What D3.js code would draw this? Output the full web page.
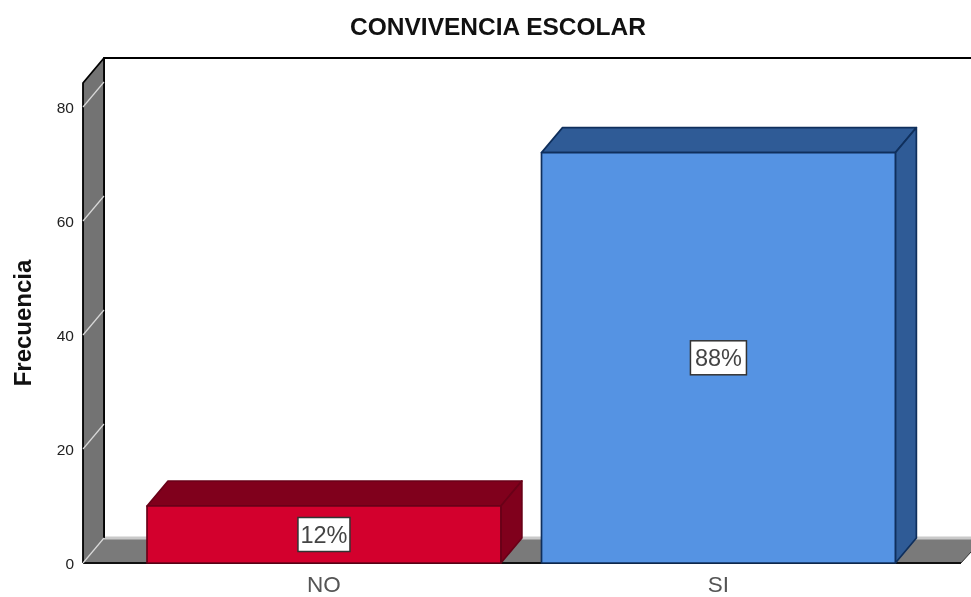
<!DOCTYPE html>
<html><head><meta charset="utf-8">
<script src="https://cdn.jsdelivr.net/npm/d3@7/dist/d3.min.js"></script>
<style>html,body{margin:0;padding:0;background:#fff}svg{display:block;filter:blur(0.35px)}text{font-family:"Liberation Sans",Arial,sans-serif}</style>
</head><body><svg id="c" width="971" height="597"></svg>
<script>
const title = "CONVIVENCIA ESCOLAR";
const yTitle = "Frecuencia";
const categories = ["NO","SI"];
const values = [10,72];
const percents = ["12%","88%"];
const yTicks = [0,20,40,60,80];
const barFront = {NO:"#d3002d",SI:"#5593e3"};
const barShade = {NO:"#80001c",SI:"#2f5b96"};
const barEdge = {NO:"#6a0018",SI:"#0f2f5c"};

const W=971, dx=21, dy=25, plotLeft=83, plotBottom=563, plotTop=83, floorRight=961;
const svg=d3.select("#c");
const y=d3.scaleLinear().domain([0,80]).range([plotBottom,107]);
const x=d3.scaleBand().domain(categories).range([127.3,915.1]).paddingInner(0.103).paddingOuter(0.05);
const poly=(pts,fill,stroke,sw)=>svg.append("path").attr("d",d3.line()(pts)+"Z").attr("fill",fill)
  .attr("stroke",stroke||"none").attr("stroke-width",sw||0).attr("stroke-linejoin","round");

svg.append("path").attr("d",d3.line()([[plotLeft+dx,plotBottom-dy],[plotLeft+dx,plotTop-dy],[W,plotTop-dy]])).attr("fill","none").attr("stroke","#000").attr("stroke-width",1.8);
poly([[plotLeft,plotTop],[plotLeft+dx,plotTop-dy],[plotLeft+dx,plotBottom-dy],[plotLeft,plotBottom]],"#737373");
poly([[plotLeft,plotBottom],[plotLeft+dx,plotBottom-dy],[W,plotBottom-dy],[W,plotBottom-11],[floorRight,plotBottom]],"#7a7a7a");
svg.append("rect").attr("x",plotLeft+dx).attr("y",plotBottom-dy-1.5).attr("width",W-plotLeft-dx).attr("height",3).attr("fill","#c9c9c9");
svg.append("path").attr("d",d3.line()([[plotLeft,plotBottom],[floorRight,plotBottom]])).attr("stroke","#111").attr("stroke-width",1.8);
svg.append("path").attr("d",d3.line()([[floorRight,plotBottom],[W,plotBottom-11]])).attr("stroke","#333").attr("stroke-width",1);
svg.append("path").attr("d",d3.line()([[plotLeft+dx,plotTop-dy],[plotLeft,plotTop],[plotLeft,plotBottom]])).attr("fill","none").attr("stroke","#000").attr("stroke-width",1.8);
svg.append("path").attr("d",d3.line()([[plotLeft+dx,plotTop-dy],[plotLeft+dx,plotBottom-dy]])).attr("fill","none").attr("stroke","#000").attr("stroke-width",1.8);
svg.append("g").selectAll("path").data(yTicks).join("path")
  .attr("d",d=>d3.line()([[plotLeft,y(d)],[plotLeft+dx,y(d)-dy]]))
  .attr("stroke","#d8d8d8").attr("stroke-width",1.2).attr("fill","none");

categories.forEach((c,i)=>{
  const x0=x(c),x1=x0+x.bandwidth(),yt=y(values[i]),yb=y(0);
  poly([[x0,yt],[x0+dx,yt-dy],[x1+dx,yt-dy],[x1,yt]],barShade[c],barEdge[c],1.7);
  poly([[x1,yt],[x1+dx,yt-dy],[x1+dx,yb-dy],[x1,yb]],barShade[c],barEdge[c],1.7);
  poly([[x0,yt],[x1,yt],[x1,yb],[x0,yb]],barFront[c],barEdge[c],1.7);
  const cx=x0+x.bandwidth()/2, cy=(yt+yb)/2;
  const w=percents[i]==="12%"?52:56, h=34;
  svg.append("rect").attr("x",cx-w/2).attr("y",cy-h/2).attr("width",w).attr("height",h)
    .attr("fill","#fff").attr("stroke","#333").attr("stroke-width",1.5);
  svg.append("text").attr("x",cx).attr("y",cy+8).attr("text-anchor","middle").attr("font-size",23.5).attr("fill","#444").text(percents[i]);
});

const gy=svg.append("g").attr("transform",`translate(${plotLeft-2},1)`)
  .call(d3.axisLeft(y).tickValues(yTicks).tickSize(0).tickPadding(7));
gy.select(".domain").remove();
gy.selectAll("text").attr("font-size",15.5).attr("fill","#222").style("font-family",'"Liberation Sans",Arial,sans-serif');
const gx=svg.append("g").attr("transform",`translate(0,${plotBottom})`)
  .call(d3.axisBottom(x).tickSize(0).tickPadding(13));
gx.select(".domain").remove();
gx.selectAll("text").attr("font-size",22.5).attr("fill","#555").style("font-family",'"Liberation Sans",Arial,sans-serif');

svg.append("text").attr("x",498).attr("y",35).attr("text-anchor","middle").attr("font-size",24.5).attr("font-weight","bold").attr("fill","#111").text(title);
svg.append("text").attr("transform","translate(31,323) rotate(-90)").attr("text-anchor","middle").attr("font-size",24).attr("font-weight","bold").attr("fill","#111").text(yTitle);
</script></body></html>
